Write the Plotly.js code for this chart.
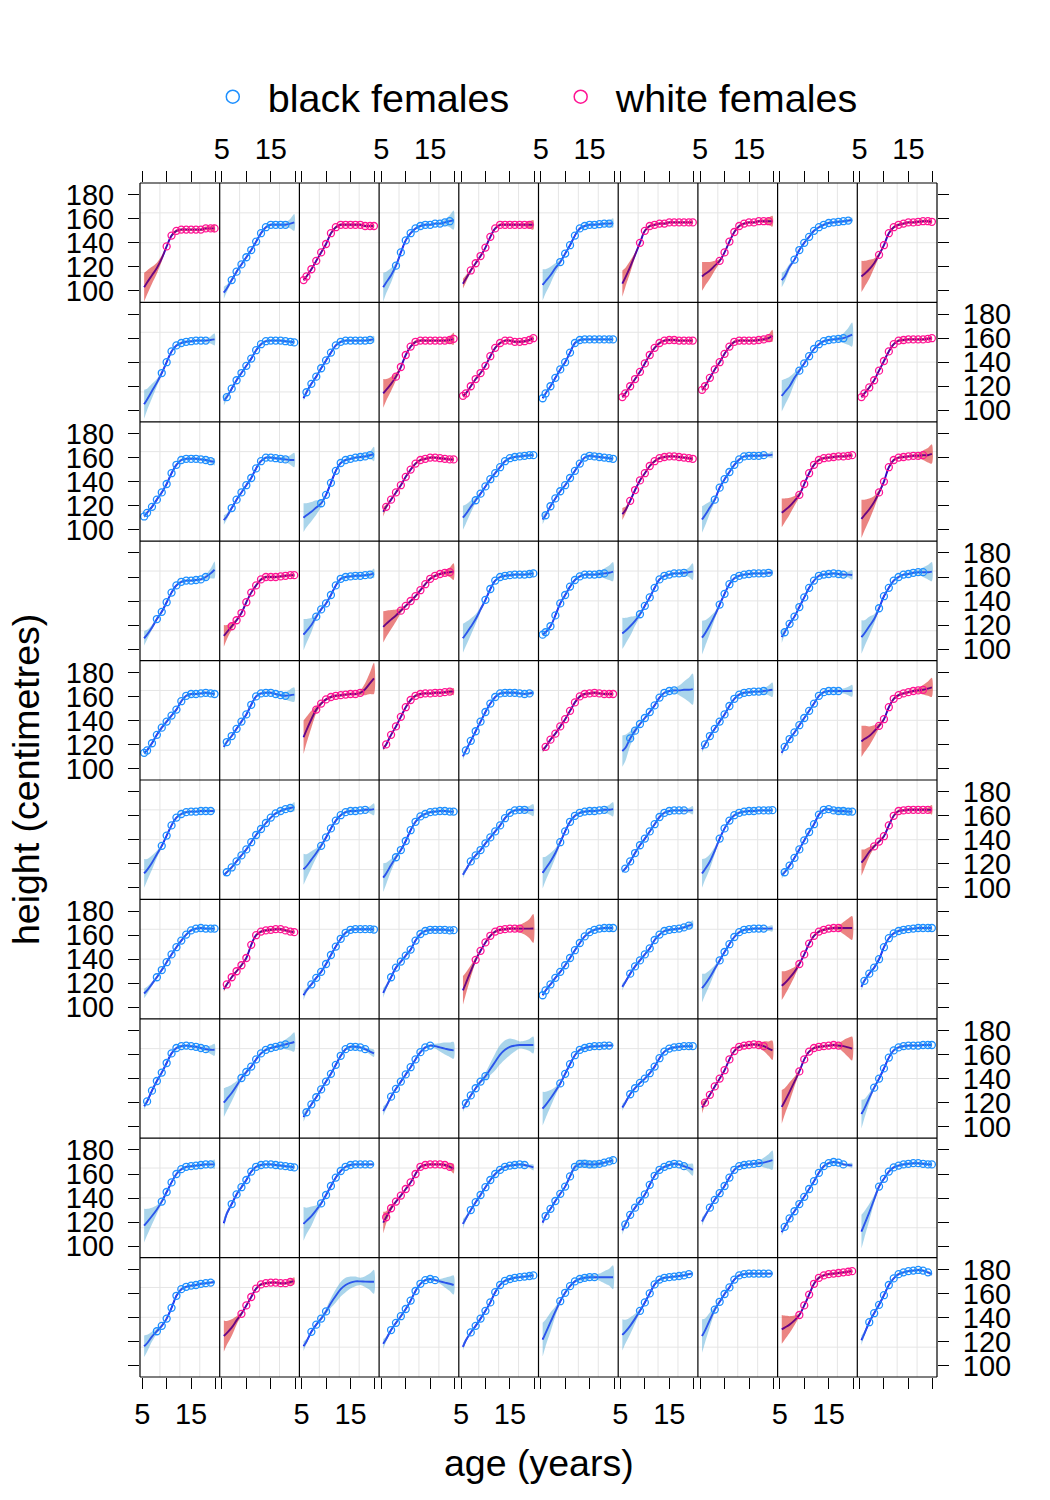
<!DOCTYPE html>
<html><head><meta charset="utf-8">
<script src="https://cdn.plot.ly/plotly-3.0.1.min.js"></script>
<style>html,body{margin:0;padding:0;background:#fff}</style>
</head><body>
<div id="chart" style="width:1050px;height:1500px"></div>
<script>
// ages at which heights were read (years)
const ages = [5.4,6,7,8,9,10,11,12,13,14,15,16,17,18,19,19.8];
const tickAges = [5,10,15,20];
const tickAgeText = ['5','','15',''];
const tickHeights = [100,120,140,160,180];
const groupNames = {B:'black females', W:'white females'};

// panel rows (top to bottom), 10 panels each
const group_r1 = ['W','B','W','B','W','B','W','W','B','W'];
const height_r1 = [
 [103,107,113,119,127,137,146,150,151,151,151,151,151,152,152,152],
 [98.5,102,109,116,122,128,134,141,148,153,155,155,155,155,156,157],
 [109,112,118,125,132,139,148,153,155,155,155,155,155,154,154,154],
 [103,107,113,121,132,142,148,152,154,155,155,156,156,157,158,159],
 [106,110,117,123,129,136,145,152,155,155,155,155,155,155,155,155],
 [105,108,113,119,124,131,138,146,152,154,155,155,155.5,156,156,156.5],
 [106,111,120,130,140,150,154,155,156,156,157,157,157,157,157,157],
 [112,114,117,121,125,132,141,149,154,156,157,157,158,158,158,158],
 [109,112,120,126,134,140,145,150,153,155,156.5,157,157.5,158,158.5,159],
 [112,114,118,123,130,138,148,153,155,156,157,157,157.5,158,158,157.5]];
const band_r1 = [
 [12,10,7,4.5,2.5,1.2,1.2,1.2,1.2,1.2,1.2,1.2,1.2,1.5,2,3.5],
 [5,3,1.5,1.2,1.2,1.2,1.2,1.2,1.2,1.2,1.2,1.2,1.5,2,4,7],
 [1.5,1.2,1.2,1.2,1.2,1.2,1.2,1.2,1.2,1.2,1.2,1.2,1.2,1.2,1.2,1.5],
 [12,9,6,2.5,1.2,1.2,1.2,1.2,1.2,1.2,1.2,1.2,1.5,2.5,5,8],
 [4,3,1.5,1.2,1.2,1.2,1.2,1.2,1.2,1.2,1.2,1.2,1.2,1.5,3,4],
 [13,10,7,4,2,1.2,1.2,1.2,1.2,1.2,1.2,1.2,1.2,1.5,2.5,4],
 [11,8,5,2,1.2,1.2,1.2,1.2,1.2,1.2,1.2,1.2,1.2,1.2,1.2,1.5],
 [12,10,7,4,1.5,1.2,1.2,1.2,1.2,1.2,1.2,1.2,1.2,1.5,3,4.5],
 [6,4.5,2.5,1.2,1.2,1.2,1.2,1.2,1.2,1.2,1.2,1.2,1.2,1.2,1.5,2],
 [13,11,8,4,1.5,1.2,1.2,1.2,1.2,1.2,1.2,1.2,1.2,1.2,1.2,1.5]];
const obs_r1 = [[10,19.8],[7,18],[5.4,19.8],[8,19],[7,19],[9,19],[9,19.8],[9,19],[8,19],[9,19.8]];

const group_r2 = ['B','B','B','W','W','B','W','W','B','W'];
const height_r2 = [
 [105,109,116,123,131,140,149,154,156,157,157.5,158,158,158,158.5,159],
 [108,111,118,125,131,137,143,150,155,157.5,158,158,158,157.5,157,156.5],
 [110,115,122,128,135,141.5,148,154,157,158,158,158,158,158,158.5,159],
 [114,117,122,128,136,146,153,157,158,158,158,158,158,158,158.5,159.5],
 [112,114,120,126,131,137,145,152,156,158,158,157,157,157.5,158.5,160],
 [110,114,120,127,134,140,148,156,158.5,159,159,159,159,159,159,159],
 [111,114,120,126,132,139,146,152,156,158,158.5,158.5,158,158,158,158],
 [117,120,127,134,140,147,153,157,158,158,158,158,158.5,159,160,162],
 [112,115,120,127,133,139,145,151,155,157.5,158.5,159,159.5,160,161.5,163],
 [111,114,119,125,133,141,149,155,158,158.5,159,159,159,159,159.5,160]];
const band_r2 = [
 [12,9,6,3,1.5,1.2,1.2,1.2,1.2,1.2,1.2,1.2,1.2,1.5,3,5],
 [4,2.5,1.2,1.2,1.2,1.2,1.2,1.2,1.2,1.2,1.2,1.2,1.2,1.2,1.2,1.5],
 [2,1.5,1.2,1.2,1.2,1.2,1.2,1.2,1.2,1.2,1.2,1.2,1.2,1.2,1.5,3],
 [12,9,6,3,1.5,1.2,1.2,1.2,1.2,1.2,1.2,1.2,1.2,1.5,3,5],
 [1.5,1.2,1.2,1.2,1.2,1.2,1.2,1.2,1.2,1.2,1.2,1.2,1.2,1.2,1.2,2],
 [1.5,1.2,1.2,1.2,1.2,1.2,1.2,1.2,1.2,1.2,1.2,1.2,1.2,1.2,1.2,1.5],
 [1.5,1.2,1.2,1.2,1.2,1.2,1.2,1.2,1.2,1.2,1.2,1.2,1.2,1.2,1.2,1.5],
 [2,1.5,1.2,1.2,1.2,1.2,1.2,1.2,1.2,1.2,1.2,1.2,1.2,1.5,3,5],
 [13,11,8,4.5,2,1.2,1.2,1.2,1.2,1.2,1.2,1.2,2,4,7,10],
 [1.5,1.2,1.2,1.2,1.2,1.2,1.2,1.2,1.2,1.2,1.2,1.2,1.2,1.2,1.2,1.5]];
const obs_r2 = [[9,18],[6,19.8],[6,19],[8,19.8],[5.4,19.8],[5.4,19.8],[5.4,19.8],[5.4,19],[9,18],[5.4,19.8]];

const group_r3 = ['B','B','B','W','B','B','W','B','W','W'];
const height_r3 = [
 [111,114,119,125,131,138,147,154,158,159,159,159,158.5,158,157,156.5],
 [108,111,118,125,131,137,143,151,157,160,160,159.5,159,158.5,158,158],
 [110,112,115,118.5,122,129,139,149,155.5,158,159,160,160.5,161,162,163],
 [115,119,125,131,137,144,150,155,158,159,160,160,159.5,159,158.5,158.5],
 [110,113,119,124.5,130,136,142,147,152,157,159.5,160.5,161,161.5,162,162],
 [108.5,112,119.5,126,132,137,143,149,155,160,161.5,161,160.5,160,159.5,159],
 [113,116,124,133,141,147,153,157,159.5,160.5,161,161,160.5,160,159.5,159],
 [108.5,112,118.5,125,135,142,148,154,158.5,161,161.5,161.5,161.5,162,162,162.5],
 [114,116,119.5,124,129,138,147,154,158,159.5,160,160.5,161,161,161.5,162],
 [109,112,117,123,131,140,152,158,160,160.5,161,161.5,161.5,162,162,163]];
const band_r3 = [
 [1.5,1.2,1.2,1.2,1.2,1.2,1.2,1.2,1.2,1.2,1.2,1.2,1.2,1.5,2,3],
 [4,2.5,1.2,1.2,1.2,1.2,1.2,1.2,1.2,1.2,1.2,1.2,1.5,2,4,6],
 [12,10,8,6,3,1.2,1.2,1.2,1.2,1.2,1.2,1.2,1.2,1.5,3,6],
 [4,2,1.2,1.2,1.2,1.2,1.2,1.2,1.2,1.2,1.2,1.2,1.2,1.2,1.2,1.5],
 [10,8,5,2,1.2,1.2,1.2,1.2,1.2,1.2,1.2,1.2,1.2,1.2,1.2,1.5],
 [4,2,1.2,1.2,1.2,1.2,1.2,1.2,1.2,1.2,1.2,1.2,1.2,1.2,1.2,1.5],
 [5,3,1.2,1.2,1.2,1.2,1.2,1.2,1.2,1.2,1.2,1.2,1.2,1.2,1.2,1.5],
 [11,9,5,2,1.2,1.2,1.2,1.2,1.2,1.2,1.2,1.2,1.2,1.5,1.8,3],
 [12,10,7,4,2,1.2,1.2,1.2,1.2,1.2,1.2,1.2,1.2,1.2,1.2,1.5],
 [16,13,9,5,2,1.2,1.2,1.2,1.2,1.2,1.2,1.2,2,4,6,8]];
const obs_r3 = [[5.4,19],[7,18],[9,19],[6,19.8],[8,19.8],[6,19.8],[7,19.8],[8,18],[9,19.8],[9,18]];

const group_r4 = ['B','W','B','W','B','B','B','B','B','B'];
const height_r4 = [
 [109,112,118,125,131,139,147,153,156,157,157,157.5,158,160,163,166],
 [111,114,119,124,130,139,147,153,158,160,160,160,160.5,161,161.5,161.5],
 [112,115,120,127,133,138,145,153,158.5,160,160.5,161,161,161.5,162,163],
 [118.5,121,124.5,128,132,136,140,144,149,154,158.5,161,162.5,163.5,164,164.5],
 [109,112.5,118.5,125,133,141,150,157,160,161,161.5,162,162,162,162.5,163],
 [112,114,119,128,138,145,152,157.5,160.5,162,162,162,162.5,163,163.5,164.5],
 [113,115,119,123.5,129,136,143,151,158,161,162,163,163,163.5,164,164.5],
 [109.5,113,120,128,137,146,154,159,161,162,162.5,163,163,163,163.5,163.5],
 [110,114,121,127,135,143,151,157,161,162,162.5,163,162.5,162,162,161.7],
 [110,113,119,125,134,144,151,157,160,162,162.5,163.5,164,164,164,164.5]];
const band_r4 = [
 [6,4,2,1.2,1.2,1.2,1.2,1.2,1.2,1.2,1.2,1.2,1.2,2,4,7],
 [9,6,3,1.2,1.2,1.2,1.2,1.2,1.2,1.2,1.2,1.2,1.2,1.2,1.2,1.5],
 [13,10,6,2,1.2,1.2,1.2,1.2,1.2,1.2,1.2,1.2,1.2,1.2,2,4],
 [13,11,8,5,2,1.2,1.2,1.2,1.2,1.2,1.2,1.2,1.2,2,4,7],
 [12,10,7,4,2,1.2,1.2,1.2,1.2,1.2,1.2,1.2,1.2,1.2,1.5,2.5],
 [1.5,1.2,1.2,1.2,1.2,1.2,1.2,1.2,1.2,1.2,1.2,1.2,2,4,6,8],
 [13,11,8,4,2,1.2,1.2,1.2,1.2,1.2,1.2,1.2,1.2,2,4,7],
 [14,11,7,3,1.2,1.2,1.2,1.2,1.2,1.2,1.2,1.2,1.2,1.2,1.5,2.5],
 [5,2,1.2,1.2,1.2,1.2,1.2,1.2,1.2,1.2,1.2,1.2,1.2,1.5,2.5,4],
 [14,11,8,4,1.5,1.2,1.2,1.2,1.2,1.2,1.2,1.2,2,4,6,8]];
const obs_r4 = [[8,18],[7,19.8],[8,19],[9,19],[10,19.8],[5.4,18],[9,18],[9,19],[6,18],[9,18]];

const group_r5 = ['B','B','W','W','B','W','B','B','B','W'];
const height_r5 = [
 [113,115,121,128,134,139,144,149,156,160.5,162,162,162.5,163,162.5,162],
 [118,122,127,133,139,145,153,160,162.5,163,163,162,161,160.5,161,161.5],
 [126,132,141,149,154,157.5,159.5,160.5,161,161.5,162,162,163,166,171,175],
 [116.5,120,128,135,143,151,157,160.5,162,162.5,162.5,163,163,163.5,164,164],
 [110,115,123,131,139,147,154,159.5,162.5,163,163,163,162.5,162,162.5,163],
 [115,118,124,129,135,141,148,155,160,162,162.5,163,162.5,162,162,162],
 [114.5,117,125,131.5,137,142,147,152.5,159,163,164.5,165,165,165.5,165.5,166],
 [116,120,127,133,139,145,152,158,161.5,163,163.5,164,164,164.5,165,165.5],
 [113,118,124.5,130,136,142,148,154,160.5,163.5,164.5,164.5,164.5,164.5,164.5,164.7],
 [122.5,124.5,127,131,135.5,141,151,158,161,162.5,163.5,164.5,165,165.5,166.5,167.5]];
const band_r5 = [
 [1.5,1.2,1.2,1.2,1.2,1.2,1.2,1.2,1.2,1.2,1.2,1.2,1.2,1.2,1.2,1.5],
 [3,1.5,1.2,1.2,1.2,1.2,1.2,1.2,1.2,1.2,1.2,1.2,1.5,3,5,6],
 [14,11,7,3,1.5,1.2,1.2,1.2,1.2,1.2,1.2,1.2,2,5,9,13],
 [1.5,1.2,1.2,1.2,1.2,1.2,1.2,1.2,1.2,1.2,1.2,1.2,1.2,1.2,2,3],
 [3,1.5,1.2,1.2,1.2,1.2,1.2,1.2,1.2,1.2,1.2,1.2,1.2,1.2,1.5,2],
 [2,1.2,1.2,1.2,1.2,1.2,1.2,1.2,1.2,1.2,1.2,1.2,1.2,1.2,1.2,1.5],
 [13,11,6,3,1.5,1.2,1.2,1.2,1.2,1.2,1.2,2,4,7,10,13],
 [3,1.5,1.2,1.2,1.2,1.2,1.2,1.2,1.2,1.2,1.2,1.2,1.5,2,4,6],
 [3,1.5,1.2,1.2,1.2,1.2,1.2,1.2,1.2,1.2,1.2,1.2,1.5,2,3.5,5],
 [13,11,8,5,2,1.2,1.2,1.2,1.2,1.2,1.2,1.2,2,4,6,8]];
const obs_r5 = [[5.4,19.8],[6,18],[8,17],[6,19],[6,19],[6,19.8],[7,16],[6,18],[6,17],[9,18]];

const group_r6 = ['B','B','B','B','B','B','B','B','B','W'];
const height_r6 = [
 [112,115,121,128,135,143.5,152,158.5,161.5,163,163.5,163.5,164,164,164,164],
 [110.5,113,117,122,127,132,138,144,149,154,158.5,162,164,165.5,166.5,167.5],
 [115.5,118,123.5,129,135,142,149.5,156,160.5,163,164,164,164.5,165,165,165.5],
 [108.5,112,119,125.5,131.5,139,148,155,159.5,161.5,163,163.5,164,164,163.5,163.5],
 [111,115,122,127,131.5,137,142,147,152,158,162.5,164.5,165,165,164.7,164.7],
 [112.5,116,122,129,138,147,155,160,162.5,163.5,164,164,164.5,165,165,165.5],
 [113.5,116,122,129,135.5,141,147,153,159,162.5,164,164.5,164.5,164.5,164.5,164.7],
 [112,115.5,122,131,141,149.5,156,160.5,162.5,163.5,164,164,164.5,164.5,164.5,164.7],
 [110.5,113,118.5,125,132,139.5,146.5,153,161,165,165.5,164.5,164,164,163.5,163.5],
 [121,124,130,134.5,138.5,143,152,160,164,164.5,165,165,165,165,165,165]];
const band_r6 = [
 [12,9,6,3,1.2,1.2,1.2,1.2,1.2,1.2,1.2,1.2,1.2,1.2,1.2,1.5],
 [1.5,1.2,1.2,1.2,1.2,1.2,1.2,1.2,1.2,1.2,1.2,1.2,1.2,1.5,2,4],
 [13,10,7,4,2,1.2,1.2,1.2,1.2,1.2,1.2,1.2,1.2,1.5,3,5],
 [12,9,5,2,1.2,1.2,1.2,1.2,1.2,1.2,1.2,1.2,1.2,1.2,1.2,1.5],
 [3,1.5,1.2,1.2,1.2,1.2,1.2,1.2,1.2,1.2,1.2,1.2,1.2,2,3.5,5],
 [13,10,7,4,1.5,1.2,1.2,1.2,1.2,1.2,1.2,1.2,1.2,2,4,6],
 [1.5,1.2,1.2,1.2,1.2,1.2,1.2,1.2,1.2,1.2,1.2,1.2,1.2,1.5,2,3.5],
 [12,9,6,3,1.2,1.2,1.2,1.2,1.2,1.2,1.2,1.2,1.2,1.2,1.2,1.5],
 [3,1.5,1.2,1.2,1.2,1.2,1.2,1.2,1.2,1.2,1.2,1.5,2.5,3,3,2.5],
 [11,8,4,1.5,1.2,1.2,1.2,1.2,1.2,1.2,1.2,1.2,1.2,1.5,2,4]];
const obs_r6 = [[9,19],[6,19],[9,18],[8,19.8],[7,18],[9,18],[6,18],[9,19.8],[6,19.8],[8,19]];

const group_r7 = ['B','W','B','B','W','B','B','B','W','B'];
const height_r7 = [
 [111.5,114,119.5,125,131,137.5,144,150,155.5,160.5,164,165.5,166,165.5,165.5,165.5],
 [115,119,125,130,135,141,152,160,163,164,164.5,165,165,164,163,162.5],
 [110,114,119,124.5,129.5,136,143.5,150.5,157,162,164.5,165,165,165,165,164.7],
 [112,117,125,133,138,143,148,155.5,161,163.5,164.5,164.5,164.5,164.5,164,164.2],
 [114,120,130,139.5,147,154,159.5,163,164.5,165,165.5,165.5,165.5,165.5,165.5,165.6],
 [110,114,119,124.5,129.5,135,141,147.5,153.5,159,162.5,164.5,165.5,166,166,166],
 [117,121,128,134,139,144,149,156,160.5,163.5,164.5,165,165.5,166.5,168,169],
 [116,119,125,132,139,146,152.5,158.5,162.5,164.5,165,165.5,165.5,165.5,165.5,165.6],
 [118,120,124.5,129.5,136,144,153,159.5,163,164.5,165.5,166,166,166,166,166],
 [117,122,128,133,140,150,157.5,161.5,163.5,164.5,165,165.5,166,166,166,166]];
const band_r7 = [
 [4,3,1.5,1.2,1.2,1.2,1.2,1.2,1.2,1.2,1.2,1.2,1.2,1.2,1.5,2],
 [2,1.2,1.2,1.2,1.2,1.2,1.2,1.2,1.2,1.2,1.2,1.2,1.2,1.2,1.2,1.5],
 [4,2,1.2,1.2,1.2,1.2,1.2,1.2,1.2,1.2,1.2,1.2,1.2,1.2,1.5,2.5],
 [4,2,1.2,1.2,1.2,1.2,1.2,1.2,1.2,1.2,1.2,1.2,1.2,1.2,1.2,1.5],
 [12,9,5,2,1.2,1.2,1.2,1.2,1.2,1.2,1.2,1.5,3,5,8,12],
 [1.5,1.2,1.2,1.2,1.2,1.2,1.2,1.2,1.2,1.2,1.2,1.2,1.2,1.2,1.2,1.5],
 [3,1.5,1.2,1.2,1.2,1.2,1.2,1.2,1.2,1.2,1.2,1.2,1.2,1.2,2,3.5],
 [12,9,6,3,1.2,1.2,1.2,1.2,1.2,1.2,1.2,1.2,1.2,1.5,2,2.5],
 [12,10,7,4,1.5,1.2,1.2,1.2,1.2,1.2,1.2,1.2,2,5,8,10],
 [3,1.5,1.2,1.2,1.2,1.2,1.2,1.2,1.2,1.2,1.2,1.2,1.2,1.2,1.2,1.5]];
const obs_r7 = [[8,19.8],[6,19.8],[7,19.8],[7,19.8],[8,17],[5.4,19.8],[7,19],[9,18],[9,17],[6,19.8]];

const group_r8 = ['B','B','B','B','B','B','B','W','W','B'];
const height_r8 = [
 [117,121,130,138,145,153,161,165.5,167,167.5,167,166.5,165.5,164.5,164,164],
 [120,123,128,134,140.5,145.5,150,156,161,164,165.5,166.5,167.5,168.5,169.5,170.5],
 [108,112,118.5,124.5,131,137.5,144,151.5,159,164.5,166.5,166.5,166,164.5,162.5,161],
 [113,117,125,131.5,137.5,143.5,149.5,156,162,166,167.5,167,166,165,164,163.5],
 [115,119.5,126,132,137.5,142,148,154,160,164,166.5,167.5,168,168,168,168],
 [115,118,123.5,129.5,136,144,152,159.5,164,165.5,166.5,167,167,167.5,167.5,168],
 [116,120,127,132,136.5,140,144.5,150,157,162.5,165,166,166.5,167,167,167],
 [116,120,126.5,133.5,140,147,156,163,166.5,167.5,168,168.5,168,167,165,163.5],
 [116.5,121,129,137.5,146,156,162.5,165.5,166.5,167,167.5,168,167.5,167,166,165],
 [110.5,115,124,132.5,140,148.5,157.5,163.5,166,167,167.5,167.5,167.5,168,168,168]];
const band_r8 = [
 [3,1.5,1.2,1.2,1.2,1.2,1.2,1.2,1.2,1.2,1.2,1.2,1.5,2,3.5,5],
 [12,10,7,4,1.5,1.2,1.2,1.2,1.2,1.2,1.2,1.2,2,4,6,8],
 [4,2,1.2,1.2,1.2,1.2,1.2,1.2,1.2,1.2,1.2,1.2,1.2,1.5,2.5,3],
 [4,2,1.2,1.2,1.2,1.2,1.2,1.2,1.2,1.2,1.2,2,3.5,5,6,7],
 [3,1.5,1.2,1.2,1.5,3,5,7,8,8,7,5,3,3.5,5,7],
 [14,11,7,3.5,1.5,1.2,1.2,1.2,1.2,1.2,1.2,1.2,1.2,1.2,1.2,1.5],
 [3,1.5,1.2,1.2,1.2,1.2,1.2,1.2,1.2,1.2,1.2,1.2,1.2,1.2,1.2,1.5],
 [5,2,1.2,1.2,1.2,1.2,1.2,1.2,1.2,1.2,1.2,1.2,2,4,6,8],
 [14,11,8,4,1.5,1.2,1.2,1.2,1.2,1.2,1.2,1.2,2,5,8,10],
 [12,8,4,1.5,1.2,1.2,1.2,1.2,1.2,1.2,1.2,1.2,1.2,1.2,1.2,1.5]];
const obs_r8 = [[6,18],[9,18],[6,18],[7,15],[6,10],[9,19],[7,19.8],[6,18],[9,17],[8,19.8]];

const group_r9 = ['B','B','B','W','B','B','B','B','B','B'];
const height_r9 = [
 [117,120,125,130.5,137,145,153,160,164,166,166.5,167,167.5,168,168,168],
 [119,127,135,143,149,155,162,166,167.5,168,168,167.5,167,166.5,166,165.5],
 [118.5,121,125,130,135.5,142.5,150,157,162.5,166,167.5,168,168,168,168,168],
 [119.5,124,131.5,137,142,147.5,153,160,166,167.5,168,168,168,167.5,166,164.5],
 [118.5,123,130,136.5,142.5,149,155,160,163.5,166,167,167.5,168,167.5,166.5,165.5],
 [119.5,125,131,137.5,143.5,149.5,158,166,168.5,168.5,168,168,168.5,169.5,170.5,171.5],
 [113,118,126,132,137.5,143,151,158.5,163.5,166,167.5,168.5,168,166.5,165,163.5],
 [120.5,125,132,138.5,144,150,157,163.5,166.5,167.5,168,168.5,169,169.5,170.5,171.5],
 [111.5,116,123,129,135,141,147.5,154,161,166.5,169,170,169.5,168,167.5,167.2],
 [112,118,128,139,149.5,156,162,165.5,167,168,168.5,169,169,168.5,168,168]];
const band_r9 = [
 [14,11,7,3.5,1.5,1.2,1.2,1.2,1.2,1.2,1.2,1.2,1.2,1.2,2,4],
 [4,2,1.2,1.2,1.2,1.2,1.2,1.2,1.2,1.2,1.2,1.2,1.2,1.2,1.2,1.5],
 [14,11,8,4,1.5,1.2,1.2,1.2,1.2,1.2,1.2,1.2,1.2,1.2,1.2,1.5],
 [9,5,2,1.2,1.2,1.2,1.2,1.2,1.2,1.2,1.2,1.2,1.2,1.5,2.5,4],
 [4,2,1.2,1.2,1.2,1.2,1.2,1.2,1.2,1.2,1.2,1.2,1.2,1.2,1.5,2.5],
 [3,1.5,1.2,1.2,1.2,1.2,1.5,2.5,3,3.5,3.5,3,2,1.5,1.5,3],
 [3.5,2,1.2,1.2,1.2,1.2,1.2,1.2,1.2,1.2,1.2,1.2,1.2,2,3.5,5],
 [3.5,2,1.2,1.2,1.2,1.2,1.2,1.2,1.2,1.2,1.2,1.2,2,4,6,8],
 [3,1.5,1.2,1.2,1.2,1.2,1.2,1.2,1.2,1.2,1.2,1.2,1.2,1.2,1.5,2],
 [14,11,7,3,1.5,1.2,1.2,1.2,1.2,1.2,1.2,1.2,1.2,1.2,1.2,1.5]];
const obs_r9 = [[9,19],[7,19.8],[9,19],[6,19],[7,18],[6,19.8],[6,18],[7,17],[6,18],[9,19.8]];

const group_r10 = ['B','W','B','B','B','B','B','B','W','B'];
const height_r10 = [
 [116,118.5,124,128.5,133,139,148,158,163.5,165.5,166.5,167,168,168.5,169,169.5],
 [124.5,127,131.5,137.5,143,150,157,164,167.5,168.5,169,169,168.5,168.5,169.5,170.5],
 [116,120,128,134,139,145,152,158,163.5,167,169,170,170,169.8,169.7,169.7],
 [118,122,129.5,135.5,141,147,154,162,168,171,172,171,170,169,168,167],
 [115.5,121,127.5,133,139,145.5,152.5,161,167,170.5,172,173,173.5,174,174.5,175],
 [121.5,127,136,145,153.5,160.5,166,170,172,173,173.5,173.5,173.5,173.5,173.5,173.5],
 [125.5,128,133,139,145.5,152.5,160,167.5,171.5,173,173.5,174,174.5,175,176,176.5],
 [124.5,129,138,146.5,153,159.5,165,171.5,175,176,176.5,176.5,176.5,176.5,176.5,176.5],
 [130,131.5,134,137.5,142,150,159,168,173,175,176,176.5,177,177.5,178,178.5],
 [121,126.5,136,143.5,150.5,158.5,167,172.5,176,177.5,178.5,179,179.5,179,177.5,176]];
const band_r10 = [
 [9,7,4,2,1.2,1.2,1.2,1.2,1.2,1.2,1.2,1.2,1.2,1.2,1.2,1.5],
 [13,10,7,3.5,1.5,1.2,1.2,1.2,1.2,1.2,1.2,1.2,1.2,1.2,2,3],
 [4,2,1.2,1.2,1.5,2.5,4,5.5,6,6,5,4,3,4.5,7,10],
 [4,2,1.2,1.2,1.2,1.2,1.2,1.2,1.2,1.2,1.2,1.2,2,4,6,8],
 [3,1.5,1.2,1.2,1.2,1.2,1.2,1.2,1.2,1.2,1.2,1.2,1.2,1.2,1.2,1.5],
 [14,11,8,4,1.5,1.2,1.2,1.2,1.5,2,2,2,3,5,7,10],
 [13,10,7,4,1.5,1.2,1.2,1.2,1.2,1.2,1.2,1.2,1.2,1.2,1.2,1.5],
 [14,10,6,2.5,1.2,1.2,1.2,1.2,1.2,1.2,1.2,1.2,1.2,1.2,1.2,1.5],
 [12,10,7,4,1.5,1.2,1.2,1.2,1.2,1.2,1.2,1.2,1.2,1.2,1.2,1.5],
 [4,2,1.2,1.2,1.2,1.2,1.2,1.2,1.2,1.2,1.2,1.2,1.2,1.2,1.2,1.5]];
const obs_r10 = [[8,19],[9,19],[7,10],[7,16],[7,19.8],[9,16],[9,19],[8,19],[9,19.8],[7,19]];

const groups = [group_r1,group_r2,group_r3,group_r4,group_r5,group_r6,group_r7,group_r8,group_r9,group_r10];
const heights = [height_r1,height_r2,height_r3,height_r4,height_r5,height_r6,height_r7,height_r8,height_r9,height_r10];
const bands = [band_r1,band_r2,band_r3,band_r4,band_r5,band_r6,band_r7,band_r8,band_r9,band_r10];
const obsRanges = [obs_r1,obs_r2,obs_r3,obs_r4,obs_r5,obs_r6,obs_r7,obs_r8,obs_r9,obs_r10];

// ---------- styling ----------
const XR = [4.55, 20.85], YR = [90.4, 189.8];
const NC = 10, NR = 10;
const FONT = 'Liberation Sans, Arial, Helvetica, sans-serif';
const sty = {
  B: {pt: '#1E90FF', band: 'rgba(85,172,215,0.5)', legend: 'legend'},
  W: {pt: '#FF1493', band: 'rgba(215,10,5,0.5)', legend: 'legend2'}
};
const LINE = '#0000FF';
const xName = c => c === 0 ? 'x' : 'x' + (c + 1);
const yName = r => r === 0 ? 'y' : 'y' + (r + 1);

const traces = [];
for (let r = 0; r < NR; r++) {
  for (let c = 0; c < NC; c++) {
    const g = groups[r][c], h = heights[r][c], b = bands[r][c], o = obsRanges[r][c];
    const xa = xName(c), ya = yName(r);
    traces.push({type:'scatter', mode:'lines', x: ages, y: h, xaxis: xa, yaxis: ya,
      line: {color: LINE, width: 1.9, shape: 'spline', smoothing: 1}, hoverinfo: 'skip', showlegend: false});
    const up = h.map((v, i) => v + b[i]);
    const lo = h.map((v, i) => v - b[i]);
    traces.push({type:'scatter', mode:'lines', x: ages.concat(ages.slice().reverse()),
      y: up.concat(lo.slice().reverse()), xaxis: xa, yaxis: ya, fill: 'toself',
      fillcolor: sty[g].band, line: {width: 0, shape: 'spline', smoothing: 0.8},
      hoverinfo: 'skip', showlegend: false});
    const px = [], py = [];
    ages.forEach((a, i) => { if (a >= o[0] - 1e-9 && a <= o[1] + 1e-9) { px.push(a); py.push(h[i]); } });
    traces.push({type:'scatter', mode:'markers', x: px, y: py, xaxis: xa, yaxis: ya,
      marker: {symbol: 'circle-open', size: 7, color: sty[g].pt, line: {width: 1.3}},
      hoverinfo: 'skip', showlegend: false});
  }
}
// legend entries (one legend box per group so each can sit where the reference puts it)
['B','W'].forEach(g => traces.push({type:'scatter', mode:'markers', x:[null], y:[null], xaxis:'x', yaxis:'y',
  name: groupNames[g], legend: sty[g].legend,
  marker:{symbol:'circle-open', size:13, color: sty[g].pt, line:{width:1.5}}, showlegend:true}));
// subplots for outer (top / right) tick axes
for (let c = 0; c < NC; c++) traces.push({type:'scatter', x:[null], y:[null], xaxis:'x' + (11 + c), yaxis:'y', showlegend:false, hoverinfo:'skip'});
for (let r = 0; r < NR; r++) traces.push({type:'scatter', x:[null], y:[null], xaxis:'x10', yaxis:'y' + (11 + r), showlegend:false, hoverinfo:'skip'});

const tickBase = {ticks:'outside', ticklen:11, tickwidth:1, tickcolor:'#000', showgrid:false, zeroline:false,
  showline:false, tickfont:{family:FONT, size:29, color:'#000'}, fixedrange:true, tickmode:'array'};
const blankX = tickAges.map(() => ''), blankY = tickHeights.map(() => '');
const legendBase = {orientation:'h', xanchor:'left', y: 1.072, yanchor:'middle',
  font:{family:FONT, size:39.5, color:'#000'}, itemwidth: 60, bgcolor:'rgba(0,0,0,0)'};

const layout = {
  width: 1050, height: 1500,
  margin: {l:140, r:113, t:183, b:123, pad:0},
  paper_bgcolor:'#fff', plot_bgcolor:'#fff',
  font: {family: FONT, color:'#000'},
  hovermode: false,
  showlegend: true,
  legend: Object.assign({}, legendBase, {x: 0.0725}),
  legend2: Object.assign({}, legendBase, {x: 0.509}),
  shapes: [], annotations: []
};
for (let c = 0; c < NC; c++) {
  const key = c === 0 ? 'xaxis' : 'xaxis' + (c + 1);
  layout[key] = Object.assign({}, tickBase, {domain:[c / NC, (c + 1) / NC], range: XR, anchor:'y10', side:'bottom',
    tickvals: tickAges, ticktext: c % 2 === 0 ? tickAgeText : blankX});
  layout['xaxis' + (11 + c)] = Object.assign({}, tickBase, {overlaying: xName(c), range: XR, anchor:'y', side:'top',
    tickvals: tickAges, ticktext: c % 2 === 1 ? tickAgeText : blankX});
}
for (let r = 0; r < NR; r++) {
  const key = r === 0 ? 'yaxis' : 'yaxis' + (r + 1);
  layout[key] = Object.assign({}, tickBase, {domain:[1 - (r + 1) / NR, 1 - r / NR], range: YR, anchor:'x', side:'left',
    tickvals: tickHeights, ticktext: r % 2 === 0 ? tickHeights.map(String) : blankY, ticklabelstandoff: 8});
  layout['yaxis' + (11 + r)] = Object.assign({}, tickBase, {overlaying: yName(r), range: YR, anchor:'x10', side:'right',
    tickvals: tickHeights, ticktext: r % 2 === 1 ? tickHeights.map(String) : blankY, ticklabelstandoff: 8});
}
// panel grid lines at quarter points of each panel
const gx = [1,2,3].map(k => XR[0] + k * (XR[1] - XR[0]) / 4);
const gy = [1,2,3].map(k => YR[0] + k * (YR[1] - YR[0]) / 4);
const gridLine = {color:'#E5E5E5', width:1};
for (let c = 0; c < NC; c++) gx.forEach(v => layout.shapes.push({type:'line', xref:xName(c), yref:'paper', x0:v, x1:v, y0:0, y1:1, line:gridLine, layer:'below'}));
for (let r = 0; r < NR; r++) gy.forEach(v => layout.shapes.push({type:'line', xref:'paper', yref:yName(r), x0:0, x1:1, y0:v, y1:v, line:gridLine, layer:'below'}));
// panel borders
for (let k = 0; k <= NC; k++) layout.shapes.push({type:'line', xref:'paper', yref:'paper', x0:k / NC, x1:k / NC, y0:0, y1:1, line:{color:'#000', width:1.2}, layer:'above'});
for (let k = 0; k <= NR; k++) layout.shapes.push({type:'line', xref:'paper', yref:'paper', x0:0, x1:1, y0:k / NR, y1:k / NR, line:{color:'#000', width:1.2}, layer:'above'});
// overall axis titles
layout.annotations.push({text:'age (years)', xref:'paper', yref:'paper', x:0.5, y:-0.072, xanchor:'center', yanchor:'middle',
  showarrow:false, font:{family:FONT, size:37.5, color:'#000'}});
layout.annotations.push({text:'height (centimetres)', xref:'paper', yref:'paper', x:-0.143, y:0.5, xanchor:'center', yanchor:'middle',
  textangle:-90, showarrow:false, font:{family:FONT, size:37.5, color:'#000'}});

Plotly.newPlot('chart', traces, layout, {displayModeBar:false, staticPlot:true});
</script>
</body></html>
